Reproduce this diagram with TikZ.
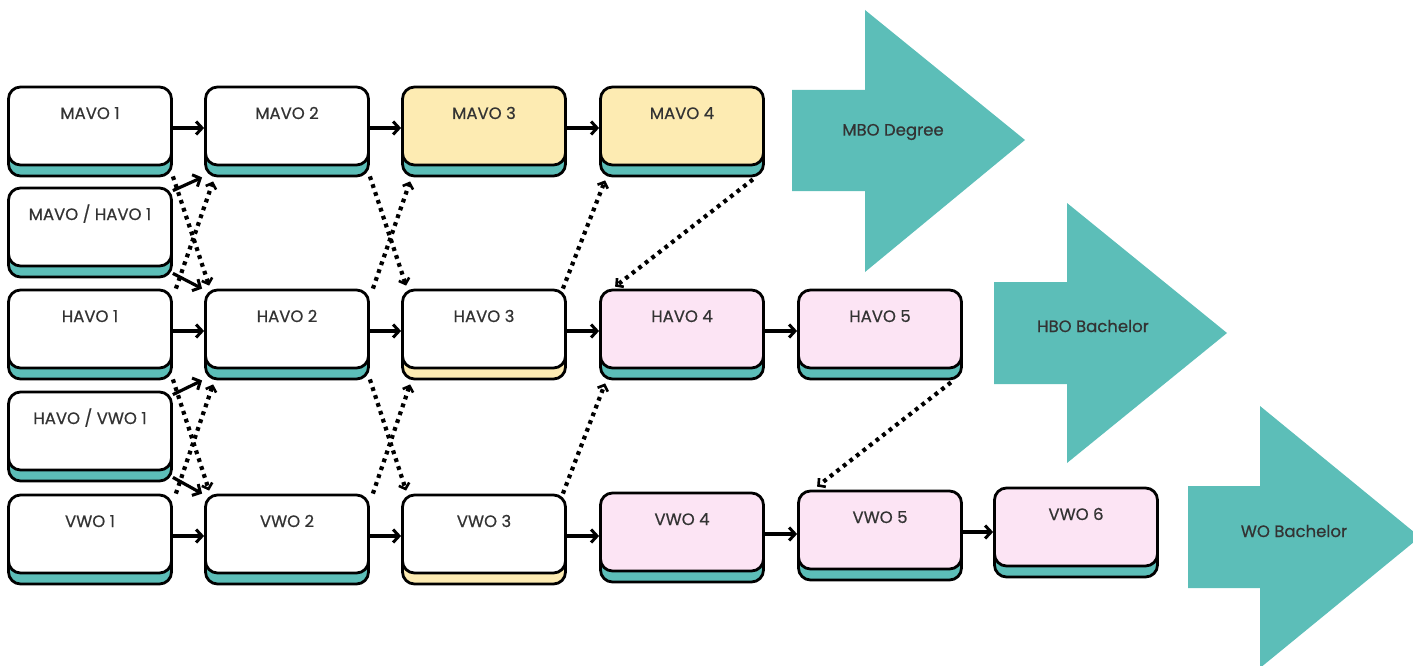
\documentclass[tikz,border=0pt]{standalone}
\usepackage{fontspec}
\setmainfont{Poppins}[FakeBold=0.6]
\usepackage{xcolor}
\usetikzlibrary{arrows.meta,shadows}

\definecolor{tealfill}{HTML}{5CBEB8}
\definecolor{yellowfill}{HTML}{FDEBB2}
\definecolor{pinkfill}{HTML}{FCE4F4}
\definecolor{inkgray}{HTML}{333333}

\begin{document}
\begin{tikzpicture}[
    x = 1pt, y = -1pt,
    every node/.style = {font=\fontsize{16.5}{18}\selectfont, text=inkgray},
    % Named styles
    yearbox/.style  = {draw=black, line width=2.8pt, rounded corners=12pt,
                       minimum width=163pt, inner xsep=0pt, inner ysep=4pt,
                       text height=28pt, text depth=42pt, fill=white,
                       copy shadow={shadow xshift=0pt, shadow yshift=-11pt,
                                    fill=#1, draw=black, line width=2.8pt}},
    yearbox/.default = tealfill,
    flow/.style     = {-{Straight Barb[length=6pt,width=13pt,line width=3pt]},
                       line width=3.2pt},
    dotflow/.style  = {-{Straight Barb[length=5pt,width=11pt,line width=2.6pt]},
                       line width=4.2pt, dash pattern=on 3.8pt off 4.5pt},
    bigarrow/.style = {fill=tealfill},
]

\useasboundingbox (0,0) rectangle (1413,666);

% ── Grid (pixels of the reference) ───────────────────────────────────────────
\def\cA{90}  \def\cB{287} \def\cC{484}
\def\cD{682} \def\cE{880} \def\cF{1076}
\def\rM{126} \def\rMH{227} \def\rH{329} \def\rHV{431} \def\rV{534}

% ── Output arrows ─────────────────────────────────────────────────────────────
\fill[bigarrow] (792,90) -- (865,90) -- (865,10) -- (1025,140)
    -- (865,272) -- (865,191) -- (792,191) -- cycle;
\node (mbo) at (893,132) {MBO Degree};

\fill[bigarrow] (994,282) -- (1067,282) -- (1067,203) -- (1227,333)
    -- (1067,463) -- (1067,384) -- (994,384) -- cycle;
\node (hbo) at (1093,326) {HBO Bachelor};

\fill[bigarrow] (1188,486) -- (1260,486) -- (1260,406) -- (1420,537)
    -- (1260,668) -- (1260,588) -- (1188,588) -- cycle;
\node (wo) at (1294,531) {WO Bachelor};

% ── School years ──────────────────────────────────────────────────────────────
\node[yearbox] (m1) at (\cA,\rM) {MAVO 1};
\node[yearbox] (m2) at (\cB,\rM) {MAVO 2};
\node[yearbox, fill=yellowfill] (m3) at (\cC,\rM) {MAVO 3};
\node[yearbox, fill=yellowfill] (m4) at (\cD,\rM) {MAVO 4};

\node[yearbox] (mh1) at (\cA,\rMH) {MAVO / HAVO 1};

\node[yearbox] (h1) at (\cA,\rH) {HAVO 1};
\node[yearbox] (h2) at (\cB,\rH) {HAVO 2};
\node[yearbox=yellowfill] (h3) at (\cC,\rH) {HAVO 3};
\node[yearbox, fill=pinkfill] (h4) at (\cD,\rH) {HAVO 4};
\node[yearbox, fill=pinkfill] (h5) at (\cE,\rH) {HAVO 5};

\node[yearbox] (hv1) at (\cA,\rHV) {HAVO / VWO 1};

\node[yearbox] (v1) at (\cA,\rV) {VWO 1};
\node[yearbox] (v2) at (\cB,\rV) {VWO 2};
\node[yearbox=yellowfill] (v3) at (\cC,\rV) {VWO 3};
\node[yearbox, fill=pinkfill] (v4) at (\cD,532) {VWO 4};
\node[yearbox, fill=pinkfill] (v5) at (\cE,530) {VWO 5};
\node[yearbox, fill=pinkfill] (v6) at (\cF,527) {VWO 6};

% ── Straight on ───────────────────────────────────────────────────────────────
\foreach \a/\b in {m1/m2, m2/m3, m3/m4, h1/h2, h2/h3, h3/h4, h4/h5,
                   v1/v2, v2/v3, v3/v4, v4/v5, v5/v6}
    \draw[flow] ([yshift=-2pt]\a.east) -- ([yshift=-2pt]\a.east -| \b.west);

% Bridge classes
\draw[flow] ([yshift=-4pt]mh1.north east) -- ([xshift=-2pt,yshift=-11pt]m2.south west);
\draw[flow] ([yshift=-6pt]mh1.south east) -- ([xshift=-2pt]h2.north west);
\draw[flow] ([yshift=-4pt]hv1.north east) -- ([xshift=-2pt,yshift=-11pt]h2.south west);
\draw[flow] ([yshift=-6pt]hv1.south east) -- ([xshift=-2pt]v2.north west);

% ── Switching level ───────────────────────────────────────────────────────────
\foreach \up/\dn in {m1/h2, h1/v2, m2/h3, h2/v3}
    \draw[dotflow] ([yshift=-10pt]\up.south east) -- ([xshift=5pt,yshift=3pt]\dn.north west);
\foreach \dn/\up in {h1/m2, v1/h2, h2/m3, v2/h3}
    \draw[dotflow] ([xshift=3pt]\dn.north east) -- ([xshift=9pt,yshift=-15pt]\up.south west);
\draw[dotflow] ([xshift=-4pt]h3.north east) -- ([xshift=6pt,yshift=-14pt]m4.south west);
\draw[dotflow] ([xshift=-4pt]v3.north east) -- ([xshift=6pt,yshift=-14pt]h4.south west);
\draw[dotflow] ([xshift=-12pt,yshift=-13pt]m4.south east) -- ([xshift=16pt,yshift=2pt]h4.north west);
\draw[dotflow] ([xshift=-12pt,yshift=-13pt]h5.south east) -- ([xshift=20pt,yshift=3pt]v5.north west);

\end{tikzpicture}
\end{document}
